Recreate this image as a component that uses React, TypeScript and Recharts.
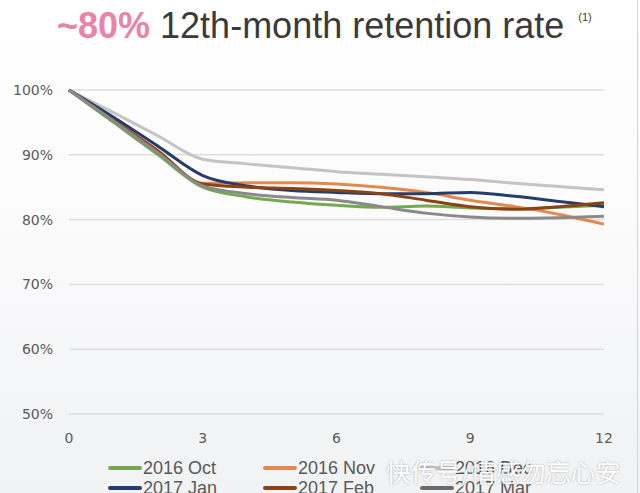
import React from "react";
import { LineChart, Line, XAxis, YAxis, CartesianGrid } from "recharts";

const months = [0, 1, 2, 3, 4, 5, 6, 7, 8, 9, 10, 11, 12];
const xTicks = [0, 3, 6, 9, 12];
const yTicks = [50, 60, 70, 80, 90, 100];

const oct2016 = [100, 95, 90, 85.0, 83.5, 82.7, 82.2, 81.9, 82.1, 81.8, 81.7, 81.9, 82.2];
const nov2016 = [100, 95.4, 90.5, 85.6, 85.7, 85.7, 85.5, 85.0, 84.2, 83.0, 82.0, 80.8, 79.3];
const dec2016 = [100, 96.5, 92.9, 89.3, 88.6, 88.0, 87.4, 87.0, 86.6, 86.2, 85.6, 85.1, 84.6];
const jan2017 = [100, 95.8, 91.3, 86.8, 85.2, 84.5, 84.2, 84.0, 84.0, 84.2, 83.6, 82.8, 82.0];
const feb2017 = [100, 95.3, 90.6, 85.5, 85.0, 84.8, 84.5, 84.0, 83.0, 82.0, 81.6, 82.0, 82.6];
const mar2017 = [100, 95.2, 90.3, 85.2, 84.0, 83.4, 83.0, 82.0, 81.0, 80.4, 80.2, 80.3, 80.5];

const seriesNames = ["2016 Oct", "2016 Nov", "2016 Dec", "2017 Jan", "2017 Feb", "2017 Mar"];
const seriesValues = [oct2016, nov2016, dec2016, jan2017, feb2017, mar2017];
const seriesColors = ["#74a950", "#e3894f", "#c4c4c4", "#263d6b", "#8b4215", "#8a8a8a"];
const legendColors = ["#74a950", "#e3894f", "#c4c4c4", "#263d6b", "#8b4215", "#6a6a6a"];

const data = months.map((m, i) => {
  const row: Record<string, number> = { month: m };
  seriesNames.forEach((n, k) => {
    row[n] = seriesValues[k][i];
  });
  return row;
});

const legendLeft = [108, 263, 420];
const legendTop = [468, 488];

export default function App() {
  return (
    <div
      style={{
        position: "absolute",
        left: 0,
        top: 0,
        width: 640,
        height: 493,
        overflow: "hidden",
        background: "linear-gradient(180deg, #ffffff 0%, #fbfbfc 45%, #f1f2f4 100%)",
        fontFamily: "'Liberation Sans', Arial, sans-serif",
      }}
    >
      <div
        style={{
          position: "absolute",
          left: 57,
          top: 4,
          whiteSpace: "nowrap",
          fontSize: 36,
          lineHeight: "44px",
          color: "#3a3a3a",
        }}
      >
        <span style={{ color: "#e983a8", fontWeight: "bold" }}>~80%</span>
        <span style={{ marginLeft: 10 }}>12th-month retention rate</span>
        <span style={{ fontSize: 11, marginLeft: 14, position: "relative", top: -17 }}>(1)</span>
      </div>

      <div style={{ position: "absolute", left: 0, top: 0 }}>
        <LineChart width={640} height={493} data={data} margin={{ top: 90, right: 36, left: 9, bottom: 49 }}>
          <CartesianGrid vertical={false} stroke="#dedede" strokeWidth={1.5} />
          <XAxis
            dataKey="month"
            type="number"
            domain={[0, 12]}
            ticks={xTicks}
            axisLine={false}
            tickLine={false}
            tickSize={0}
            tickMargin={19}
            height={30}
            tick={{ fill: "#5a5a5a", fontSize: 14, fontFamily: "'DejaVu Sans', sans-serif" }}
          />
          <YAxis
            type="number"
            domain={[50, 100]}
            ticks={yTicks}
            axisLine={false}
            tickLine={false}
            tickSize={0}
            tickMargin={16}
            width={60}
            tickFormatter={(v: number) => `${v}%`}
            tick={{ fill: "#5a5a5a", fontSize: 14, fontFamily: "'DejaVu Sans', sans-serif" }}
          />
          {seriesNames.map((n, k) => (
            <Line
              key={n}
              dataKey={n}
              type="monotone"
              stroke={seriesColors[k]}
              strokeWidth={3}
              dot={false}
              isAnimationActive={false}
            />
          ))}
        </LineChart>
      </div>

      {seriesNames.map((n, k) => {
        const col = k % 3;
        const row = Math.floor(k / 3);
        return (
          <div
            key={n}
            style={{
              position: "absolute",
              left: legendLeft[col],
              top: legendTop[row] - 11,
              height: 22,
              display: "flex",
              alignItems: "center",
              whiteSpace: "nowrap",
              fontSize: 18,
              color: "#595959",
            }}
          >
            <div style={{ width: 34, height: 4, borderRadius: 2, background: legendColors[k], marginRight: 1 }} />
            <span>{n}</span>
          </div>
        );
      })}

      <div
        style={{
          position: "absolute",
          left: 386,
          top: 455,
          fontSize: 25,
          lineHeight: "32px",
          whiteSpace: "nowrap",
          color: "#ffffff",
          fontFamily: "'Noto Sans CJK SC', sans-serif",
          textShadow: "0 0 2px rgba(0,0,0,0.35)",
        }}
      >
        快传号/情感勿忘心安
      </div>

      <div style={{ position: "absolute", left: 637, top: 0, width: 1, height: 493, background: "#d4d4d4" }} />
    </div>
  );
}
